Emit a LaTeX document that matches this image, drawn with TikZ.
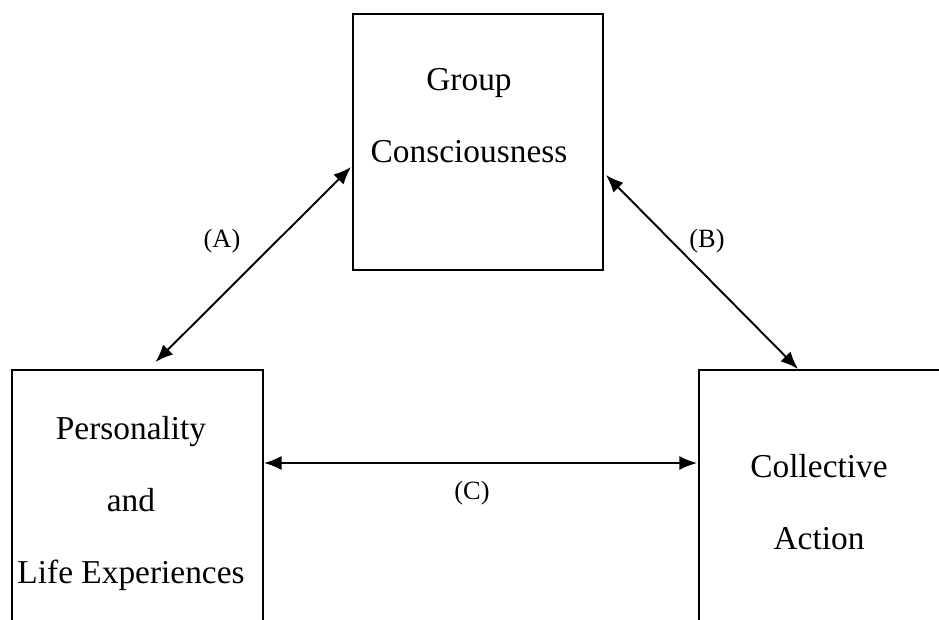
\documentclass[tikz,border=0pt]{standalone}
\usepackage{fontspec}
\setmainfont{Liberation Serif}
\usetikzlibrary{arrows.meta, positioning, calc}
\tikzset{
  % Box styles
  factorbox/.style={rectangle, draw=black, line width=1.1pt, fill=none},
  factortext/.style={align=center, font=\fontsize{19}{41}\selectfont, inner sep=0pt},
  % Arrow styles
  linkarrow/.style={{Latex[length=10pt,width=8pt]}-{Latex[length=10pt,width=8pt]}, line width=1.1pt},
  % Label styles
  pathlabel/.style={font=\fontsize{15}{18}\selectfont, inner sep=0pt}
}
\begin{document}
\begin{tikzpicture}[x=0.02cm, y=-0.02cm]
  \useasboundingbox (0,0) rectangle (939,619);
  \clip (0,0) rectangle (939,619);

  % Boxes
  \node[factorbox, minimum width=250*0.02cm, minimum height=256*0.02cm] (group) at (478,142) {};
  \node[factorbox, minimum width=251*0.02cm, minimum height=300*0.02cm] (person) at (137.5,520) {};
  \node[factorbox, minimum width=300*0.02cm, minimum height=300*0.02cm] (action) at (849,520) {};

  % Box texts
  \node[factortext] (grouptxt) at (469,116) {Group\\Consciousness};
  \node[factortext] (persontxt) at (131,503) {Personality\\and\\Life Experiences};
  \node[factortext] (actiontxt) at (819,502) {Collective\\Action};

  % Links
  \draw[linkarrow] ($(person.north)+(18,-7)$) -- ($(group.west)+(-1,25)$);
  \draw[linkarrow] ($(group.east)+(2,33)$) -- ($(action.north)+(-51,0)$);
  \draw[linkarrow] ($(person.east)+(0,-57)$) -- ($(action.west)+(-1,-57)$);

  % Link labels
  \node[pathlabel] (labA) at (222,241) {(A)};
  \node[pathlabel] (labB) at (707,241) {(B)};
  \node[pathlabel] (labC) at (472,493) {(C)};
\end{tikzpicture}
\end{document}
